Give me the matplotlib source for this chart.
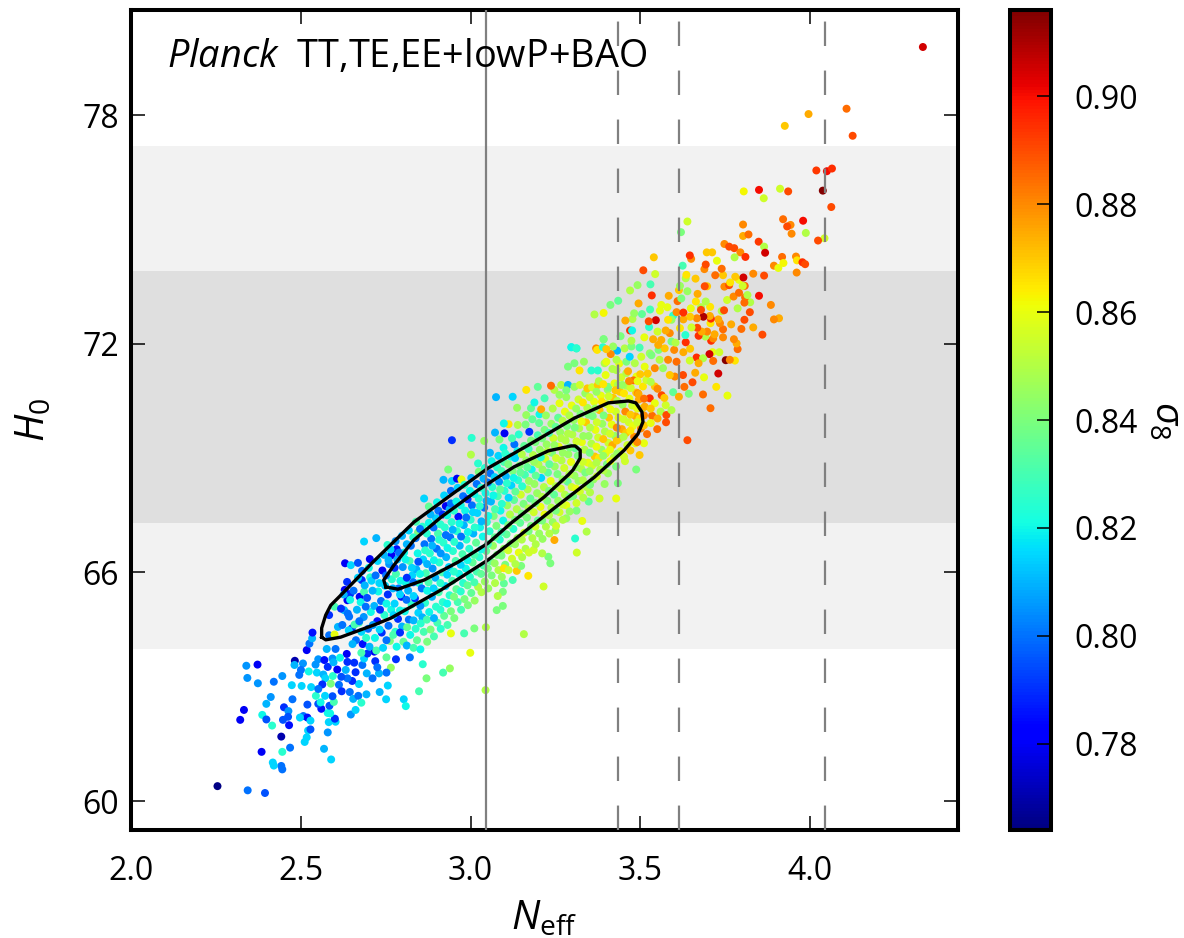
import numpy as np
import matplotlib
matplotlib.use('agg')
import matplotlib.pyplot as plt

plt.rcParams['font.family'] = ['Open Sans', 'DejaVu Sans']
plt.rcParams['mathtext.fontset'] = 'custom'
plt.rcParams['mathtext.rm'] = 'Open Sans'
plt.rcParams['mathtext.it'] = 'Open Sans:italic'
plt.rcParams['mathtext.bf'] = 'Open Sans:bold'

# (Neff, H0, sigma8)
tail = [
    (2.254,60.39,.765),(2.343,60.28,.80),(2.394,60.21,.795),(2.445,60.83,.80),(2.442,60.92,.80),(2.420,60.93,.815),
    (2.417,61.01,.815),(2.589,61.09,.815),(2.568,61.37,.81),(2.445,61.29,.825),(2.384,61.29,.78),(2.468,61.40,.80),
    (2.442,61.69,.77),(2.511,61.55,.815),(2.517,61.67,.815),(2.521,61.85,.815),(2.528,61.88,.795),(2.579,61.80,.805),
    (2.415,61.98,.825),(2.321,62.13,.78),(2.332,62.39,.78),(2.386,62.26,.82),(2.398,62.14,.795),(2.398,62.55,.81),
    (2.411,62.73,.805),(2.450,62.46,.79),(2.463,62.36,.805),(2.447,62.13,.795),(2.465,61.99,.785),(2.462,62.21,.795),
    (2.475,62.67,.80),(2.519,62.53,.795),(2.507,62.23,.80),(2.519,62.19,.785),(2.497,62.19,.815),(2.528,62.11,.815),
    (2.582,62.07,.815),(2.602,62.08,.815),(2.600,62.16,.79),(2.647,62.27,.805),(2.661,62.39,.815),(2.579,62.31,.82),
    (2.586,62.30,.82),(2.560,62.42,.785),(2.551,62.55,.795),(2.558,62.59,.82),(2.584,62.50,.795),(2.597,62.60,.83),
    (2.593,62.75,.795),(2.571,62.76,.815),(2.544,62.76,.825),(2.530,62.99,.815),(2.502,63.02,.815),(2.473,63.04,.815),
    (2.420,63.13,.80),(2.373,63.09,.805),(2.342,63.23,.805),(2.445,63.28,.805),(2.339,63.55,.805),(2.372,63.58,.78),
    (2.482,63.68,.77),(2.481,63.57,.81),(2.506,63.61,.805),(2.500,63.44,.80),(2.495,63.31,.80),(2.523,63.40,.82),
    (2.547,63.37,.815),(2.543,63.58,.805),(2.551,63.72,.805),(2.569,63.70,.785),(2.579,63.52,.79),(2.593,63.74,.805),
    (2.596,63.64,.81),(2.566,63.32,.81),(2.572,63.22,.815),(2.594,63.28,.825),(2.563,63.06,.79),(2.551,62.94,.80),
    (2.588,63.08,.84),(2.612,63.05,.80),(2.620,62.88,.79),(2.644,62.86,.80),(2.654,62.68,.81),(2.669,62.76,.80),
    (2.693,62.80,.81),(2.678,62.58,.825),(2.732,62.86,.81),(2.751,62.67,.815),(2.756,63.03,.815),(2.803,62.67,.815),
    (2.809,62.49,.82),(2.848,62.88,.83),(2.859,63.59,.825),(2.919,63.37,.83),(2.939,63.48,.845),(2.870,63.22,.84),
    (3.044,62.91,.85),(2.999,63.89,.86),(2.821,63.77,.80),(2.780,63.72,.79),(2.765,63.50,.845),(2.752,63.37,.80),
    (2.730,63.35,.81),(2.711,63.22,.80),(2.694,63.35,.81),(2.671,63.07,.815),(2.651,63.15,.79),(2.637,63.22,.80),
    (2.619,63.26,.795),(2.661,63.38,.79),(2.632,63.44,.81),(2.607,63.45,.78),(2.637,63.65,.79),(2.657,63.63,.79),
    (2.681,63.57,.80),(2.686,63.74,.815),(2.719,63.67,.79),(2.725,63.51,.80),(2.752,63.77,.835),(2.716,63.92,.78),
    (2.696,63.87,.79),(2.678,63.89,.83),(2.635,63.86,.78),(2.615,63.76,.82),(2.602,63.99,.80),(2.576,63.99,.81),
    (2.517,63.96,.78),(2.525,64.13,.80),(2.533,64.27,.81),(2.534,64.42,.785),(2.583,64.35,.80),(2.599,64.37,.86),
    (2.609,64.57,.81),(2.650,64.53,.79),(2.671,64.68,.83),(2.642,64.84,.80),(2.627,65.01,.81),(2.583,64.88,.79),
    (2.599,65.10,.83),(2.637,65.27,.78),(2.645,65.43,.79),(2.629,65.54,.78),(2.673,65.36,.78),(2.686,65.49,.83),
    (2.679,65.80,.79),(2.704,65.87,.825),(2.630,66.24,.78),(2.647,66.19,.815),(2.668,66.25,.795),(2.703,66.35,.78),
    (2.686,66.81,.815),(2.722,66.90,.81),(2.767,66.45,.78),(2.782,66.61,.785),(2.755,66.72,.825),
]

# dense part of the band, lower half
core_low = [
    (2.622,64.62,.80),(2.618,65.05,.79),(2.626,65.42,.81),(2.641,64.48,.815),(2.638,64.92,.80),(2.645,65.28,.82),(2.636,65.75,.79),
    (2.662,64.22,.80),(2.658,64.63,.83),(2.665,65.02,.81),(2.655,65.52,.80),(2.668,65.86,.815),
    (2.682,64.12,.785),(2.678,64.44,.815),(2.685,64.83,.805),(2.676,65.22,.82),(2.688,65.66,.81),(2.680,66.04,.80),
    (2.702,64.05,.81),(2.698,64.52,.80),(2.706,64.96,.82),(2.695,65.33,.795),(2.708,65.78,.815),(2.700,66.12,.82),
    (2.722,63.95,.83),(2.718,64.28,.82),(2.725,64.72,.785),(2.716,65.12,.81),(2.728,65.50,.82),(2.720,65.92,.80),(2.726,66.30,.815),
    (2.742,64.02,.815),(2.738,64.42,.79),(2.746,64.88,.825),(2.736,65.25,.80),(2.748,65.65,.815),(2.740,66.05,.78),(2.745,66.46,.81),
    (2.762,64.20,.84),(2.758,64.60,.80),(2.766,65.02,.82),(2.756,65.42,.79),(2.768,65.82,.825),(2.760,66.22,.805),(2.764,66.60,.815),
    (2.782,64.05,.82),(2.778,64.44,.825),(2.786,64.78,.79),(2.776,65.18,.815),(2.788,65.58,.80),(2.780,65.96,.83),(2.784,66.34,.81),(2.779,66.82,.805),
    (2.802,64.18,.835),(2.798,64.58,.81),(2.806,64.98,.82),(2.796,65.36,.785),(2.808,65.74,.82),(2.800,66.14,.805),(2.804,66.52,.82),(2.798,66.96,.81),
    (2.822,64.36,.82),(2.818,64.76,.80),(2.826,65.16,.825),(2.816,65.52,.81),(2.828,65.92,.815),(2.820,66.30,.83),(2.824,66.70,.80),(2.818,67.10,.815),
    (2.842,64.22,.835),(2.838,64.52,.825),(2.846,64.94,.815),(2.836,65.32,.79),(2.848,65.72,.825),(2.840,66.08,.81),(2.844,66.50,.82),(2.838,66.90,.80),(2.845,67.05,.84),(2.839,67.33,.83),
    (2.862,64.44,.83),(2.858,64.82,.81),(2.866,65.20,.825),(2.856,65.58,.80),(2.868,65.98,.83),(2.860,66.34,.815),(2.864,66.74,.80),(2.863,67.94,.815),(2.858,67.20,.825),
    (2.882,64.50,.84),(2.878,64.96,.82),(2.886,65.36,.81),(2.876,65.74,.83),(2.888,66.10,.805),(2.880,66.50,.825),(2.884,66.88,.80),(2.877,67.30,.82),(2.877,67.73,.835),
    (2.902,64.68,.83),(2.898,65.10,.825),(2.906,65.48,.83),(2.896,65.86,.81),(2.908,66.26,.825),(2.900,66.62,.80),(2.904,67.02,.83),(2.898,67.42,.815),(2.905,67.62,.80),
    (2.922,64.86,.835),(2.918,65.22,.825),(2.926,65.64,.815),(2.916,66.00,.83),(2.928,66.40,.81),(2.920,66.78,.825),(2.924,67.18,.825),(2.918,67.52,.79),(2.927,67.74,.78),(2.920,68.43,.81),
    (2.942,64.98,.84),(2.938,65.40,.825),(2.946,65.78,.83),(2.936,66.14,.815),(2.948,66.56,.825),(2.940,66.92,.80),(2.944,67.32,.825),(2.938,67.66,.81),(2.942,67.81,.80),(2.945,68.40,.815),(2.945,69.47,.79),
    (2.962,65.22,.83),(2.958,65.56,.835),(2.966,65.96,.82),(2.956,66.30,.83),(2.968,66.70,.81),(2.960,67.08,.825),(2.964,67.46,.785),(2.958,67.86,.82),(2.960,68.46,.78),(2.973,68.44,.86),
    (2.982,65.30,.84),(2.978,65.72,.825),(2.986,66.10,.82),(2.976,66.48,.83),(2.988,66.86,.825),(2.980,67.24,.81),(2.984,67.62,.82),(2.978,68.00,.80),(2.934,68.70,.84),
    (3.002,65.46,.835),(2.998,65.88,.825),(3.006,66.26,.835),(2.996,66.62,.825),(3.008,67.02,.81),(3.000,67.38,.825),(3.004,67.76,.80),(2.998,68.14,.82),(3.003,69.53,.825),(3.001,69.09,.85),
    (3.022,65.62,.85),(3.018,66.02,.83),(3.026,66.40,.825),(3.016,66.78,.835),(3.028,67.18,.82),(3.020,67.56,.815),(3.024,67.94,.825),(3.018,68.32,.80),(3.024,68.64,.84),
    (3.042,65.76,.845),(3.038,66.18,.83),(3.046,66.56,.835),(3.036,66.94,.82),(3.048,67.32,.825),(3.040,67.70,.80),(3.044,68.08,.82),(3.038,68.46,.81),(3.040,69.45,.845),(3.057,69.14,.81),
]

# dense part of the band, upper half
core_high = [
    (3.062,65.92,.84),(3.058,66.30,.835),(3.066,66.70,.845),(3.056,67.08,.825),(3.068,67.48,.84),(3.060,67.86,.81),(3.064,68.24,.825),(3.058,68.60,.80),(3.072,69.67,.81),(3.097,69.27,.82),
    (3.082,66.06,.85),(3.078,66.46,.84),(3.086,66.86,.825),(3.076,67.22,.84),(3.088,67.62,.82),(3.080,68.00,.83),(3.084,68.38,.805),(3.078,68.76,.825),(3.085,69.49,.84),(3.100,69.65,.78),
    (3.102,66.20,.84),(3.098,66.62,.845),(3.106,67.00,.835),(3.096,67.36,.82),(3.108,67.76,.845),(3.100,68.14,.825),(3.104,68.52,.81),(3.098,68.90,.83),(3.112,69.89,.865),(3.098,69.91,.82),
    (3.122,66.36,.855),(3.118,66.76,.84),(3.126,67.14,.825),(3.116,67.52,.85),(3.128,67.90,.835),(3.120,68.28,.815),(3.124,68.66,.84),(3.118,69.04,.82),(3.129,69.36,.80),(3.075,70.60,.81),(3.124,70.61,.815),
    (3.142,66.52,.86),(3.138,66.90,.845),(3.146,67.30,.835),(3.136,67.66,.85),(3.148,68.04,.855),(3.140,68.42,.825),(3.144,68.80,.84),(3.138,69.18,.82),(3.139,69.87,.85),(3.137,70.32,.845),
    (3.162,66.62,.85),(3.158,67.04,.855),(3.166,67.44,.84),(3.156,67.80,.84),(3.168,68.18,.85),(3.160,68.56,.83),(3.164,68.94,.845),(3.158,69.32,.835),(3.173,69.69,.79),(3.164,70.13,.845),(3.164,70.79,.865),
    (3.182,66.90,.85),(3.178,67.22,.84),(3.186,67.58,.855),(3.176,67.94,.835),(3.188,68.32,.845),(3.180,68.70,.82),(3.184,69.08,.85),(3.178,69.46,.84),(3.178,70.31,.835),(3.188,70.46,.82),
    (3.202,67.02,.845),(3.198,67.36,.835),(3.206,67.72,.86),(3.196,68.08,.845),(3.208,68.48,.815),(3.200,68.84,.85),(3.204,69.22,.845),(3.198,69.60,.83),(3.203,70.15,.82),(3.198,70.87,.835),
    (3.222,67.20,.85),(3.218,67.52,.86),(3.226,67.88,.84),(3.216,68.24,.85),(3.228,68.62,.835),(3.220,68.98,.855),(3.224,69.36,.845),(3.218,69.74,.84),(3.208,70.28,.875),(3.218,70.57,.83),
    (3.242,67.32,.845),(3.238,67.70,.85),(3.246,68.04,.835),(3.236,68.40,.86),(3.248,68.78,.845),(3.240,69.14,.84),(3.244,69.52,.855),(3.238,69.90,.845),(3.247,70.79,.85),(3.237,70.90,.885),
    (3.262,67.58,.855),(3.258,67.88,.845),(3.266,68.20,.855),(3.256,68.58,.84),(3.268,68.94,.85),(3.260,69.30,.86),(3.264,69.68,.845),(3.258,70.06,.835),(3.267,70.92,.85),(3.262,70.44,.86),
    (3.282,67.76,.86),(3.278,68.04,.85),(3.286,68.38,.835),(3.276,68.74,.855),(3.288,69.10,.845),(3.280,69.46,.85),(3.284,69.84,.84),(3.278,70.22,.86),(3.287,70.92,.81),(3.282,70.60,.845),
    (3.302,68.00,.84),(3.298,68.24,.855),(3.306,68.54,.845),(3.296,68.90,.86),(3.308,69.26,.835),(3.300,69.62,.85),(3.304,70.00,.845),(3.298,70.38,.86),(3.306,70.87,.845),(3.297,71.91,.82),(3.312,71.88,.825),
    (3.322,68.12,.855),(3.318,68.40,.845),(3.326,68.72,.85),(3.316,69.06,.84),(3.328,69.42,.86),(3.320,69.78,.85),(3.324,70.16,.84),(3.318,70.54,.855),(3.321,71.30,.865),(3.306,71.49,.84),(3.287,71.40,.84),
    (3.342,68.24,.85),(3.338,68.62,.84),(3.346,68.88,.86),(3.336,69.22,.85),(3.348,69.58,.845),(3.340,69.94,.87),(3.344,70.32,.85),(3.338,70.70,.845),(3.344,70.83,.87),(3.334,71.53,.845),(3.356,71.30,.825),
    (3.362,68.44,.845),(3.358,68.80,.855),(3.366,69.04,.87),(3.356,69.38,.85),(3.368,69.74,.86),(3.360,70.10,.84),(3.364,70.48,.86),(3.358,70.86,.855),(3.375,70.92,.87),(3.375,71.30,.825),
    (3.382,68.70,.85),(3.378,69.00,.865),(3.386,69.22,.845),(3.376,69.54,.855),(3.388,69.90,.845),(3.380,70.26,.87),(3.384,70.64,.86),(3.378,71.02,.85),(3.395,71.49,.85),(3.392,72.12,.84),
    (3.402,68.84,.84),(3.398,69.12,.86),(3.406,69.40,.855),(3.396,69.70,.85),(3.408,70.06,.87),(3.400,70.42,.855),(3.404,70.80,.845),(3.398,71.18,.86),(3.405,70.87,.84),(3.400,71.53,.86),
    (3.422,69.02,.85),(3.418,69.34,.875),(3.426,69.58,.845),(3.416,69.88,.86),(3.428,70.22,.855),(3.420,70.58,.87),(3.424,70.96,.86),(3.418,71.34,.85),(3.430,71.31,.85),(3.434,70.92,.85),
    (3.442,69.18,.86),(3.438,69.50,.85),(3.446,69.76,.875),(3.436,70.06,.86),(3.448,70.40,.845),(3.440,70.74,.87),(3.444,71.12,.855),(3.438,71.48,.86),(3.459,71.23,.85),(3.430,71.58,.85),
    (3.462,69.34,.855),(3.458,69.66,.87),(3.466,69.94,.855),(3.456,70.22,.88),(3.468,70.56,.86),(3.460,70.90,.85),(3.464,71.28,.875),(3.459,71.53,.84),(3.484,71.49,.85),(3.489,71.14,.86),
    (3.482,69.56,.88),(3.478,69.84,.86),(3.486,70.10,.875),(3.476,70.38,.855),(3.488,70.72,.87),(3.480,71.04,.885),(3.493,70.70,.88),(3.495,70.68,.875),(3.498,69.08,.87),(3.511,69.39,.86),(3.486,69.39,.86),
    (3.502,69.78,.88),(3.498,70.04,.865),(3.506,70.30,.855),(3.496,70.54,.875),(3.508,70.88,.865),(3.500,71.20,.87),(3.518,71.05,.855),(3.513,71.40,.86),(3.520,69.63,.885),(3.550,69.76,.885),
    (3.528,70.57,.895),(3.513,70.35,.875),(3.543,70.44,.86),(3.543,70.88,.87),(3.543,71.36,.88),(3.535,70.11,.885),(3.560,70.22,.85),(3.563,70.65,.89),(3.577,70.13,.89),(3.576,69.94,.89),
    (3.575,70.39,.855),(3.592,70.26,.85),(3.597,70.73,.835),(3.614,70.61,.875),(3.643,70.69,.84),(3.630,70.87,.885),(3.654,70.99,.89),(3.602,71.14,.88),(3.587,71.18,.87),(3.626,71.18,.89),
    (3.567,71.36,.845),(3.639,69.47,.89),(3.662,71.24,.875),(3.685,70.67,.885),(3.707,70.31,.885),(3.724,70.87,.865),(3.757,70.64,.86),(3.688,71.12,.86),(3.730,71.22,.905),
]

# second pass over the band, the gaps and the edges
core_fill = [
    (3.157,64.38,.85),(3.045,64.56,.85),(3.011,64.53,.84),(2.981,64.40,.83),(2.942,64.40,.86),(3.095,65.12,.84),(3.077,65.01,.84),(3.095,65.49,.84),(3.080,65.38,.85),(3.098,65.71,.835),
    (3.124,65.80,.83),(3.215,65.63,.855),(3.170,65.91,.865),(3.136,66.04,.87),(3.098,66.11,.865),(3.149,66.17,.84),(3.235,66.24,.84),(3.229,66.41,.84),(3.211,66.50,.85),(3.313,66.52,.855),
    (3.186,66.59,.855),(3.247,66.85,.875),(3.308,66.89,.825),(3.342,67.07,.85),(3.329,67.35,.86),(3.429,67.94,.86),(3.348,67.86,.835),(3.380,67.94,.855),(3.434,68.34,.84),(3.488,68.70,.84),
    (3.429,68.78,.84),(3.405,68.60,.845),(3.250,67.10,.845),(3.282,67.42,.845),(3.312,67.62,.84),(3.352,68.10,.85),(3.395,68.32,.845),(3.455,68.92,.855),
    (2.652,64.12,.81),(2.672,64.72,.80),(2.692,64.28,.825),(2.712,64.62,.805),(2.691,65.10,.80),(2.732,64.50,.815),(2.711,65.52,.81),(2.752,64.22,.80),(2.733,65.02,.79),(2.772,64.36,.83),
    (2.752,65.18,.82),(2.731,65.72,.815),(2.792,64.42,.79),(2.773,64.88,.815),(2.751,65.92,.80),(2.812,64.08,.81),(2.792,65.00,.82),(2.771,65.58,.81),(2.758,66.32,.81),(2.832,64.02,.83),
    (2.813,64.56,.835),(2.792,65.42,.815),(2.776,66.12,.79),(2.852,63.98,.82),(2.832,64.74,.81),(2.811,65.28,.80),(2.793,65.78,.82),(2.789,66.52,.80),(2.872,64.18,.84),(2.853,64.66,.825),
    (2.832,65.38,.815),(2.812,65.86,.79),(2.808,66.34,.82),(2.892,64.32,.83),(2.871,64.76,.83),(2.852,65.12,.805),(2.831,65.74,.80),(2.827,66.12,.815),(2.812,66.74,.81),(2.912,64.52,.825),
    (2.892,64.80,.81),(2.872,65.52,.82),(2.851,65.96,.82),(2.846,66.28,.795),(2.831,66.92,.825),(2.932,64.62,.83),(2.911,65.02,.825),(2.891,65.58,.815),(2.872,66.22,.81),(2.866,66.58,.825),
    (2.851,67.14,.80),(2.952,64.80,.84),(2.931,65.18,.82),(2.911,65.72,.825),(2.892,66.32,.82),(2.887,66.70,.81),(2.871,67.02,.825),(2.972,65.02,.83),(2.951,65.36,.84),(2.931,65.94,.815),
    (2.912,66.50,.805),(2.907,66.86,.825),(2.891,67.18,.80),(2.882,67.52,.81),(2.992,65.14,.84),(2.971,65.50,.825),(2.951,66.02,.825),(2.932,66.64,.82),(2.927,66.98,.80),(2.911,67.26,.825),
    (2.901,67.84,.82),(3.012,65.26,.845),(2.991,65.66,.835),(2.971,66.20,.815),(2.952,66.80,.825),(2.947,67.12,.81),(2.931,67.50,.82),(2.922,68.02,.815),(3.032,65.48,.85),(3.011,65.74,.83),
    (2.991,66.32,.82),(2.972,66.94,.80),(2.967,67.28,.82),(2.951,67.62,.825),(2.942,68.14,.80),(3.052,65.58,.845),(3.031,65.96,.835),(3.011,66.46,.83),(2.992,67.06,.82),(2.987,67.44,.80),
    (2.971,67.76,.82),(2.962,68.22,.815),(3.072,65.72,.85),(3.051,66.10,.84),(3.031,66.60,.82),(3.012,67.18,.825),(3.007,67.58,.815),(2.991,67.92,.79),(2.982,68.30,.825),(3.092,65.88,.845),
    (3.071,66.24,.845),(3.051,66.74,.83),(3.032,67.34,.81),(3.027,67.74,.825),(3.011,68.06,.82),(3.002,68.48,.81),(3.112,66.06,.855),(3.091,66.44,.84),(3.071,66.92,.835),(3.052,67.48,.82),
    (3.047,67.88,.81),(3.031,68.22,.825),(3.022,68.86,.825),(3.132,66.22,.85),(3.111,66.58,.855),(3.091,67.06,.83),(3.072,67.66,.83),(3.067,68.02,.82),(3.051,68.36,.80),(3.042,68.74,.825),
    (3.152,66.40,.85),(3.131,66.74,.845),(3.111,67.24,.84),(3.092,67.80,.825),(3.087,68.18,.835),(3.071,68.50,.815),(3.062,68.92,.82),(3.172,66.52,.855),(3.151,66.86,.85),(3.131,67.38,.84),
    (3.112,67.96,.815),(3.107,68.34,.825),(3.091,68.66,.83),(3.082,69.06,.815),(3.192,66.74,.85),(3.171,67.08,.84),(3.151,67.54,.84),(3.132,68.12,.835),(3.127,68.48,.82),(3.111,68.84,.84),
    (3.102,69.12,.825),(3.212,66.88,.845),(3.191,67.20,.855),(3.171,67.68,.85),(3.152,68.26,.825),(3.147,68.62,.835),(3.131,69.00,.815),(3.122,69.52,.83),(3.232,67.02,.85),(3.211,67.36,.84),
    (3.191,67.82,.84),(3.172,68.40,.845),(3.167,68.76,.835),(3.151,69.10,.85),(3.142,69.62,.825),(3.252,67.22,.855),(3.231,67.50,.85),(3.211,67.98,.85),(3.192,68.54,.835),(3.187,68.90,.845),
    (3.171,69.24,.83),(3.162,69.88,.84),(3.272,67.38,.85),(3.251,67.62,.84),(3.231,68.14,.84),(3.212,68.70,.845),(3.207,69.02,.825),(3.191,69.42,.84),(3.182,70.02,.835),(3.292,67.60,.845),
    (3.271,67.78,.855),(3.251,68.26,.85),(3.232,68.84,.835),(3.227,69.18,.85),(3.211,69.52,.84),(3.202,69.92,.835),(3.312,67.82,.855),(3.291,67.98,.84),(3.271,68.44,.845),(3.252,69.00,.855),
    (3.247,69.34,.845),(3.231,69.66,.83),(3.222,70.12,.845),(3.332,67.96,.85),(3.311,68.20,.86),(3.291,68.58,.85),(3.272,69.14,.845),(3.267,69.52,.85),(3.251,69.82,.835),(3.242,70.30,.85),
    (3.352,68.30,.84),(3.331,68.42,.85),(3.311,68.76,.845),(3.292,69.28,.84),(3.287,69.64,.85),(3.271,69.98,.85),(3.262,70.66,.845),(3.372,68.52,.855),(3.351,68.66,.845),(3.331,68.90,.855),
    (3.312,69.44,.855),(3.307,69.80,.84),(3.291,70.12,.85),(3.282,70.78,.84),(3.392,68.68,.85),(3.371,68.88,.85),(3.351,69.14,.84),(3.332,69.58,.845),(3.327,69.96,.86),(3.311,70.30,.845),
    (3.412,68.92,.86),(3.391,69.06,.845),(3.371,69.30,.86),(3.352,69.80,.85),(3.347,70.14,.84),(3.331,70.46,.865),(3.322,70.92,.855),(3.432,69.12,.845),(3.411,69.22,.86),(3.391,69.50,.87),
    (3.372,69.94,.855),(3.367,70.30,.845),(3.351,70.60,.855),(3.452,69.04,.855),(3.431,69.46,.87),(3.411,69.64,.855),(3.392,70.12,.84),(3.387,70.48,.865),(3.371,70.74,.845),(3.471,69.20,.87),
    (3.451,69.56,.85),(3.431,69.80,.88),(3.412,70.28,.86),(3.407,70.62,.855),(3.391,70.94,.865),(3.491,69.42,.88),(3.471,69.72,.865),(3.451,70.02,.855),(3.432,70.50,.85),(3.427,70.78,.87),
    (3.511,69.86,.87),(3.491,69.94,.855),(3.471,70.14,.87),(3.452,70.70,.865),(3.447,70.92,.845),(3.531,69.92,.86),(3.511,70.12,.88),(3.491,70.30,.86),(3.472,70.84,.855),(3.467,71.02,.88),
    (3.551,70.04,.875),(3.531,70.30,.87),(3.511,70.56,.885),(3.492,71.02,.86),(3.571,70.58,.87),(3.551,70.82,.88),(3.531,71.00,.85),(3.522,71.22,.87),
]

# upper right, sparser
upper = [
    (3.297,71.91,.82),(3.469,71.66,.815),(3.432,71.82,.81),(3.413,71.73,.88),(3.420,71.93,.845),(3.370,71.88,.88),(3.373,71.84,.865),(3.390,71.91,.825),(3.400,71.86,.87),
    (3.454,71.88,.85),(3.474,71.93,.84),(3.498,71.90,.83),(3.503,71.66,.855),(3.528,71.75,.845),(3.554,71.84,.84),(3.572,71.88,.87),(3.600,71.84,.88),(3.627,71.78,.875),(3.647,71.87,.87),
    (3.713,71.78,.86),(3.733,71.78,.855),(3.704,71.73,.905),(3.666,71.64,.895),(3.685,71.62,.85),(3.672,71.49,.875),(3.715,71.55,.885),(3.752,71.57,.915),(3.779,71.56,.865),(3.764,71.58,.88),
    (3.646,71.56,.855),(3.607,71.53,.885),(3.582,71.58,.88),(3.557,71.58,.85),(3.533,71.70,.84),(3.787,71.86,.885),(3.784,72.01,.875),(3.776,72.12,.88),(3.709,72.08,.895),(3.744,72.17,.88),
    (3.715,72.14,.88),(3.692,72.19,.85),(3.672,72.21,.895),(3.719,72.25,.875),(3.697,72.32,.88),(3.681,72.32,.875),(3.668,72.42,.89),(3.651,72.43,.855),(3.617,72.41,.865),(3.587,72.28,.88),
    (3.575,72.35,.875),(3.551,72.32,.855),(3.526,72.44,.825),(3.470,72.35,.895),(3.476,72.35,.82),(3.512,72.17,.86),(3.538,72.12,.875),(3.562,72.10,.875),(3.592,72.06,.84),(3.604,72.03,.85),
    (3.553,71.97,.875),(3.442,72.20,.84),(3.392,72.12,.84),(3.474,72.08,.85),(3.312,71.88,.825),(3.634,72.04,.895),(3.633,72.23,.825),(3.860,72.24,.89),(3.744,72.38,.885),(3.833,72.43,.875),
    (3.798,72.39,.885),(3.768,72.51,.875),(3.735,72.54,.88),(3.730,72.64,.875),(3.707,72.54,.865),(3.708,72.66,.895),(3.705,72.73,.875),(3.686,72.71,.91),(3.667,72.67,.88),(3.647,72.71,.87),
    (3.909,72.67,.875),(3.894,72.64,.88),(3.807,72.63,.89),(3.546,72.62,.905),(3.525,72.59,.89),(3.477,72.65,.85),(3.456,72.61,.875),(3.597,72.74,.825),(3.592,72.63,.845),(3.582,72.63,.865),
    (3.627,72.64,.875),(3.649,72.93,.86),(3.679,72.96,.85),(3.706,72.97,.865),(3.607,72.83,.88),(3.627,72.82,.895),(3.679,72.89,.89),(3.740,72.86,.85),(3.747,72.88,.89),(3.787,72.93,.85),
    (3.823,72.83,.89),(3.529,72.90,.83),(3.505,72.78,.835),(3.482,72.80,.845),(3.558,72.87,.86),(3.562,73.02,.86),(3.580,72.96,.86),(3.365,72.77,.85),(3.392,72.81,.862),(3.412,73.02,.84),
    (3.435,73.13,.835),(3.495,73.06,.875),(3.885,73.02,.88),(3.693,73.11,.85),(3.664,73.11,.865),(3.824,73.09,.85),(3.807,73.08,.885),(3.756,73.15,.855),(3.809,73.22,.885),(3.850,73.26,.90),
    (3.816,73.28,.85),(3.775,73.24,.88),(3.791,73.34,.885),(3.610,73.12,.885),(3.621,73.19,.84),(3.584,73.26,.875),(3.669,73.31,.875),(3.639,73.38,.845),(3.614,73.41,.87),(3.617,73.52,.845),
    (3.534,73.27,.895),(3.530,73.56,.83),(3.470,73.40,.85),(3.492,73.54,.845),(3.697,73.51,.87),(3.690,73.51,.89),(3.748,73.50,.88),(3.762,73.54,.89),(3.808,73.52,.885),(3.802,73.52,.855),
    (3.765,73.61,.865),(3.791,73.68,.86),(3.804,73.74,.905),(3.780,73.76,.87),(3.663,73.71,.87),(3.634,73.72,.85),(3.636,73.81,.865),(3.865,73.79,.89),(3.833,73.84,.88),(3.961,73.87,.88),
    (3.744,73.80,.87),(3.721,73.80,.885),(3.689,73.96,.88),(3.544,73.83,.855),(3.509,73.93,.89),(3.625,74.05,.83),
]

# top of the cloud
top = [
    (3.650,74.23,.88),(3.646,74.32,.895),(3.540,74.27,.87),(3.639,75.21,.855),(3.620,74.93,.84),(3.693,74.08,.89),(3.740,73.97,.885),(3.696,74.40,.87),(3.712,74.40,.87),
    (3.726,74.18,.86),(3.748,74.62,.88),(3.762,74.55,.89),(3.777,74.51,.89),(3.795,74.40,.88),(3.810,74.28,.895),(3.778,74.27,.85),(3.894,74.05,.88),(3.907,73.99,.86),(3.918,74.28,.885),
    (3.959,74.29,.88),(3.962,74.19,.865),(3.922,74.12,.862),(3.978,74.14,.895),(3.986,74.09,.89),(3.849,74.68,.893),(3.865,74.55,.85),(3.868,74.39,.905),(3.803,74.83,.875),(3.819,74.87,.885),
    (3.803,75.13,.88),(3.946,74.89,.88),(3.988,74.91,.85),(4.043,74.77,.855),(4.024,74.71,.89),(3.921,75.27,.885),(3.943,75.12,.88),(3.933,75.08,.89),(3.980,75.23,.90),(4.063,75.59,.89),
    (3.805,76.00,.862),(3.850,76.04,.90),(3.912,76.07,.855),(3.936,76.00,.89),(3.864,75.82,.855),(4.019,76.55,.893),(4.050,76.53,.90),(4.065,76.60,.895),(4.038,76.02,.915),
    (4.126,77.46,.89),(3.926,77.72,.87),(3.996,78.03,.875),(4.108,78.17,.885),(4.333,79.79,.905),
]

neff, h0, sigma8 = np.array(tail + core_low + core_high + core_fill + upper + top).T

h0_mean = 70.6
h0_err = 3.3
neff_solid = 3.046
neff_dashed = [3.435, 3.615, 4.045]

# 68% and 95% contours
outer_neff = [2.561,2.561,2.573,2.588,2.615,2.683,2.712,2.833,2.942,3.052,3.170,3.306,3.406,3.465,3.487,3.505,3.508,3.493,3.453,3.365,3.247,3.128,3.052,2.913,2.765,2.715,2.617,2.573,2.561]
outer_h0 = [64.30,64.54,64.88,65.14,65.38,66.00,66.27,67.32,68.03,68.74,69.34,70.05,70.45,70.50,70.45,70.21,69.95,69.63,69.21,68.50,67.69,66.85,66.33,65.54,64.80,64.62,64.30,64.23,64.30]
inner_neff = [2.750,2.744,2.774,2.833,2.913,3.022,3.128,3.229,3.297,3.308,3.323,3.323,3.302,3.288,3.217,3.120,3.052,2.963,2.863,2.786,2.750]
inner_h0 = [65.62,65.80,66.19,66.85,67.45,68.16,68.77,69.19,69.32,69.32,69.21,69.00,68.69,68.56,67.98,67.30,66.77,66.27,65.80,65.56,65.62]

xticks = [2.0, 2.5, 3.0, 3.5, 4.0]
yticks = [60, 66, 72, 78]
cbar_ticks = [0.78, 0.80, 0.82, 0.84, 0.86, 0.88, 0.90]

W, H = 1184, 938
fig = plt.figure(figsize=(W / 100, H / 100), dpi=100)
ax = fig.add_axes([131.3 / W, 1 - 830 / H, (958 - 131.3) / W, 820 / H])

ax.axhspan(h0_mean - 2 * h0_err, h0_mean + 2 * h0_err, color='#f2f2f2', lw=0, zorder=0)
ax.axhspan(h0_mean - h0_err, h0_mean + h0_err, color='#dfdfdf', lw=0, zorder=0.5)

sc = ax.scatter(neff, h0, c=sigma8, s=33, cmap='jet', vmin=0.764, vmax=0.916, linewidths=0, zorder=2)

ax.plot(outer_neff, outer_h0, color='k', lw=2.4, zorder=3, solid_joinstyle='round')
ax.plot(inner_neff, inner_h0, color='k', lw=2.4, zorder=3, solid_joinstyle='round')

ax.axvline(neff_solid, color='#808080', lw=1.6, zorder=4)
for val in neff_dashed:
    ax.axvline(val, color='#808080', lw=1.6, ls=(0, (11, 11.05)), zorder=4)

ax.set_xlim(2.0, 2.0 + (958 - 131.3) / 339.3)
ax.set_ylim(60 - 29 / 38.1, 60 + 791 / 38.1)
ax.set_xticks(xticks)
ax.set_xticklabels(['%.1f' % t for t in xticks])
ax.set_yticks(yticks)
ax.tick_params(which='major', direction='in', length=10, width=1.1, top=True, right=True, labelsize=23, pad=18)
ax.tick_params(axis='y', pad=9)
for spine in ax.spines.values():
    spine.set_linewidth(2.9)

ax.set_xlabel(r'$N_{\mathrm{eff}}$', fontsize=29, labelpad=8)
ax.set_ylabel(r'$H_0$', fontsize=29, labelpad=20)

ax.text(167 / W, 1 - 67 / H, r'$\mathit{Planck}$  TT,TE,EE+lowP+BAO', fontsize=27.3,
        transform=fig.transFigure, va='baseline', ha='left', zorder=5)

cax = fig.add_axes([1010 / W, 1 - 830 / H, 41 / W, 820 / H])
cb = fig.colorbar(sc, cax=cax)
cb.set_ticks(cbar_ticks)
cb.set_ticklabels(['%.2f' % t for t in cbar_ticks])
cax.tick_params(direction='in', length=10, width=1.1, right=True, left=False, labelsize=23, pad=17)
cb.outline.set_linewidth(2.9)
cb.set_label(r'$\sigma_8$', rotation=270, fontsize=28, labelpad=33)

fig.savefig('out.png', dpi=100)
